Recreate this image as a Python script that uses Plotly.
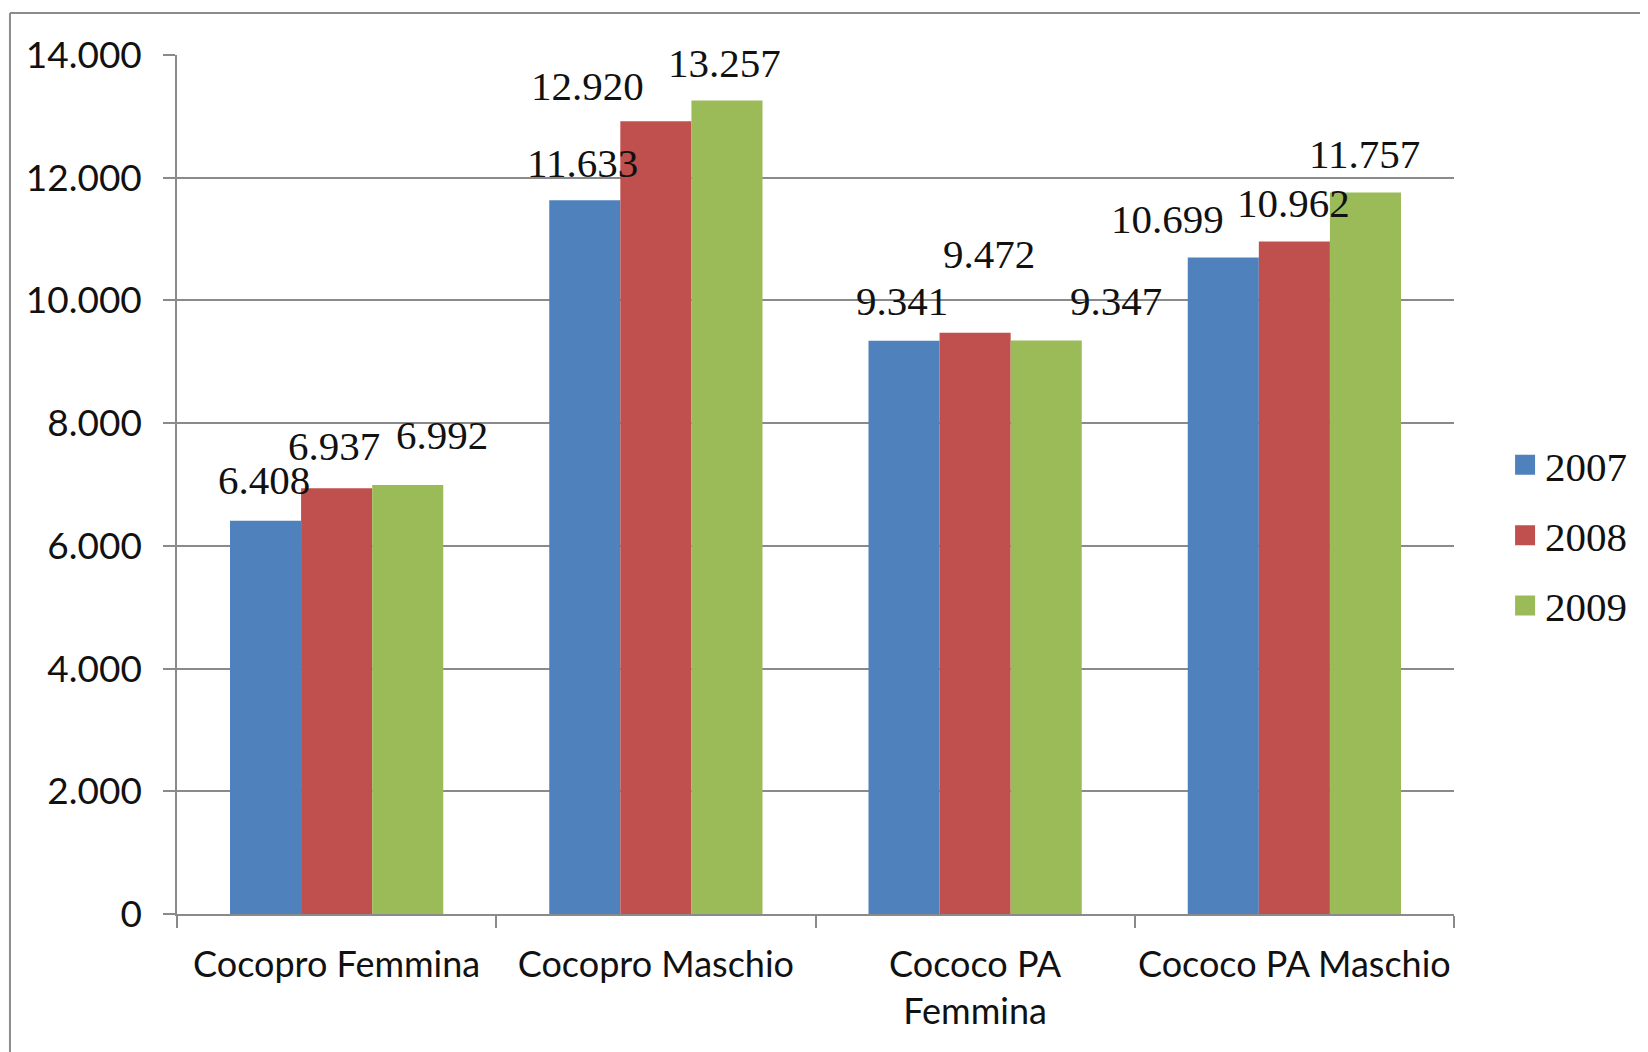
import plotly.graph_objects as go

categories = ["Cocopro Femmina", "Cocopro Maschio", "Cococo PA Femmina", "Cococo PA Maschio"]
tick_labels = ["Cocopro Femmina", "Cocopro Maschio", "Cococo PA<br>Femmina", "Cococo PA Maschio"]
years = ["2007", "2008", "2009"]
values_2007 = [6408, 11633, 9341, 10699]
values_2008 = [6937, 12920, 9472, 10962]
values_2009 = [6992, 13257, 9347, 11757]
y_ticks = [0, 2000, 4000, 6000, 8000, 10000, 12000, 14000]

series = [values_2007, values_2008, values_2009]
colors = ["#4F81BD", "#C0504D", "#9BBB59"]

# label placement offsets (pixels) relative to each bar's top centre -- style only
bar_px = 71
label_dx = [[-2, -2, -2, -56], [-3, -68, 14, -1], [34, -2, 70, -1]]
label_dy = [[41, 37, 40, 39], [42, 35, 79, 38], [50, 38, 39, 39]]


def fmt(v):
    return f"{v:,}".replace(",", ".")


fig = go.Figure()
for j, (yr, vals) in enumerate(zip(years, series)):
    fig.add_trace(go.Bar(
        x=categories, y=vals, name=yr, marker=dict(color=colors[j], line=dict(width=0)),
        showlegend=False, legendgroup=yr,
    ))
# legend entries (larger square swatches)
for j, yr in enumerate(years):
    fig.add_trace(go.Scatter(
        x=[None], y=[None], mode="markers", name=yr, legendgroup=yr,
        marker=dict(symbol="square", size=16, color=colors[j], line=dict(color=colors[j], width=4)),
    ))

annotations = []
for j, vals in enumerate(series):
    for i, v in enumerate(vals):
        annotations.append(dict(
            x=categories[i], y=v, xref="x", yref="y", text=fmt(v), showarrow=False,
            xanchor="center", yanchor="middle",
            xshift=(j - 1) * bar_px + label_dx[j][i], yshift=label_dy[j][i],
            font=dict(family="Liberation Serif", size=41, color="#111111"),
        ))

fig.update_layout(
    width=1648, height=1052,
    margin=dict(l=169, r=202, t=47, b=146, autoexpand=False),
    paper_bgcolor="white", plot_bgcolor="white",
    separators=",.",
    barmode="group", bargap=0.332, bargroupgap=0,
    annotations=annotations,
    showlegend=True,
    legend=dict(
        x=1.040, xanchor="left", y=0.441, yanchor="middle",
        font=dict(family="Liberation Serif", size=41, color="#111111"),
        tracegroupgap=14, bgcolor="rgba(0,0,0,0)",
    ),
    shapes=[
        dict(type="line", xref="paper", yref="paper", x0=-0.1308, x1=1.2, y0=1.0489, y1=1.0489,
             line=dict(color="#8c8c8c", width=2)),
        dict(type="line", xref="paper", yref="paper", x0=-0.1308, x1=-0.1308, y0=1.0489, y1=-0.2,
             line=dict(color="#8c8c8c", width=2)),
    ],
)

fig.update_yaxes(
    range=[0, 14000], tickvals=y_ticks, tickformat=",d",
    showgrid=True, gridcolor="#8a8a8a", gridwidth=1.5,
    showline=True, linecolor="#8a8a8a", linewidth=1.5,
    ticks="outside", ticklen=12, tickcolor="#8a8a8a", tickwidth=1.5,
    ticklabelstandoff=14, automargin=False,
    tickfont=dict(family="Lato", size=37, color="#111111"),
    zeroline=False,
)
fig.update_xaxes(
    tickmode="array", tickvals=categories, ticktext=tick_labels, tickangle=0,
    showline=True, linecolor="#8a8a8a", linewidth=1.5,
    ticks="outside", tickson="boundaries", ticklen=12, tickcolor="#8a8a8a", tickwidth=1.5,
    ticklabelstandoff=18, automargin=False,
    tickfont=dict(family="Lato", size=36, color="#111111"),
    showgrid=False,
)

fig.write_html("out.html")
